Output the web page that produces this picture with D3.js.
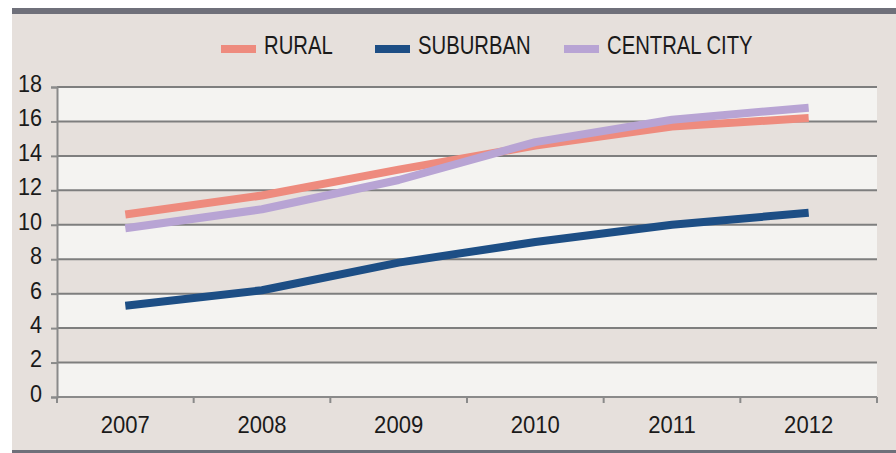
<!DOCTYPE html>
<html>
<head>
<meta charset="utf-8">
<script src="https://cdn.jsdelivr.net/npm/d3@7"></script>
<style>
	body { margin: 0; background: #fff; }
	svg text { font-family: "Liberation Sans", Arial, sans-serif; fill: #1a1a1a; }
</style>
</head>
<body>
<div id="chart"></div>
<script>
// Values
var years = ['2007', '2008', '2009', '2010', '2011', '2012'];
var rural = [10.6, 11.7, 13.2, 14.6, 15.7, 16.2];
var suburban = [5.3, 6.2, 7.8, 9.0, 10.0, 10.7];
var centralCity = [9.8, 10.9, 12.6, 14.8, 16.1, 16.8];
var seriesNames = ['RURAL', 'SUBURBAN', 'CENTRAL CITY'];
var seriesColors = ['#ee8b7e', '#1d4e85', '#b8a4d4'];
var yTicks = [0, 2, 4, 6, 8, 10, 12, 14, 16, 18];

var total_width = 896;
var total_height = 453;
var margin = {
	top: 87,
	right: 19,
	bottom: 56,
	left: 57
};
var width = total_width - margin.left - margin.right;
var height = total_height - margin.top - margin.bottom;

// condensed look: squeeze text horizontally around its anchor x
function squeeze(sel, s) {
	sel.each(function() {
		var t = d3.select(this);
		var x0 = +t.attr('x') || 0;
		t.attr('x', 0).attr('transform', 'translate(' + x0 + ',0) scale(' + s + ',1)');
	});
}

var svg = d3.select('#chart')
	.append('svg')
	.attr('width', total_width)
	.attr('height', total_height);

// Panel background and frame
svg.append('rect')
	.attr('x', 12).attr('y', 8)
	.attr('width', total_width - 12).attr('height', total_height - 8)
	.attr('fill', '#e6e0dc');
svg.append('rect')
	.attr('x', 12).attr('y', 8)
	.attr('width', total_width - 12).attr('height', 6)
	.attr('fill', '#6f707a');
svg.append('rect')
	.attr('x', 12).attr('y', 450)
	.attr('width', total_width - 12).attr('height', 3)
	.attr('fill', '#6f707a');

var main = svg.append('g')
	.attr('transform', 'translate(' + margin.left + ',' + margin.top + ')');

var x_scale = d3.scaleBand().domain(years).range([0, width]);
var y_scale = d3.scaleLinear().domain([0, 18]).range([height, 0]);

// Alternating light bands
var bands = yTicks.filter(function(d, i) { return i % 2 == 0 && d < 18; });
main.selectAll('.band')
	.data(bands)
	.enter()
	.append('rect')
	.attr('class', 'band')
	.attr('x', 0)
	.attr('y', function(d) { return y_scale(d + 2); })
	.attr('width', width)
	.attr('height', function(d) { return y_scale(d) - y_scale(d + 2); })
	.attr('fill', '#f4f3f1');

// Gridlines
main.selectAll('.grid')
	.data(yTicks)
	.enter()
	.append('line')
	.attr('class', 'grid')
	.attr('x1', 0)
	.attr('x2', width)
	.attr('y1', function(d) { return y_scale(d); })
	.attr('y2', function(d) { return y_scale(d); })
	.attr('stroke', '#7e7e7e')
	.attr('stroke-width', 2);

// Y axis
var yAxis = main.append('g')
	.call(d3.axisLeft(y_scale).tickValues(yTicks).tickSize(6).tickPadding(9));
yAxis.select('.domain').attr('stroke', '#8a8a8a').attr('stroke-width', 2);
yAxis.selectAll('.tick line').attr('stroke', '#8a8a8a').attr('stroke-width', 2);
yAxis.selectAll('text')
	.attr('font-size', '24px')
	.attr('dy', '0.18em')
	.style('fill', '#1a1a1a')
	.call(squeeze, 0.9);

// X axis, ticks on category boundaries
var xAxis = main.append('g')
	.attr('transform', 'translate(0,' + height + ')')
	.call(d3.axisBottom(x_scale).tickSize(0).tickPadding(19));
xAxis.select('.domain').remove();
xAxis.selectAll('text')
	.attr('font-size', '24px')
	.style('fill', '#1a1a1a')
	.call(squeeze, 0.92);
var boundaries = years.map(function(d) { return x_scale(d); }).concat([width]);
main.append('line')
	.attr('x1', 0).attr('x2', width)
	.attr('y1', height).attr('y2', height)
	.attr('stroke', '#8a8a8a').attr('stroke-width', 2);
main.selectAll('.xtick')
	.data(boundaries)
	.enter()
	.append('line')
	.attr('class', 'xtick')
	.attr('x1', function(d) { return d; })
	.attr('x2', function(d) { return d; })
	.attr('y1', height)
	.attr('y2', height + 6)
	.attr('stroke', '#8a8a8a')
	.attr('stroke-width', 2);

// Lines
var allSeries = [rural, suburban, centralCity];
var line = d3.line()
	.x(function(d, i) { return x_scale(years[i]) + x_scale.bandwidth() / 2; })
	.y(function(d) { return y_scale(d); });

main.selectAll('.series')
	.data(allSeries)
	.enter()
	.append('path')
	.attr('class', 'series')
	.attr('d', line)
	.attr('fill', 'none')
	.attr('stroke', function(d, i) { return seriesColors[i]; })
	.attr('stroke-width', 8)
	.attr('stroke-linejoin', 'round');

// Legend
var legendX = [221, 375, 564];
var legend = svg.selectAll('.legend')
	.data(seriesNames)
	.enter()
	.append('g')
	.attr('class', 'legend')
	.attr('transform', function(d, i) { return 'translate(' + legendX[i] + ',49)'; });
legend.append('rect')
	.attr('x', 0)
	.attr('y', -4)
	.attr('width', 35)
	.attr('height', 8)
	.attr('fill', function(d, i) { return seriesColors[i]; });
legend.append('text')
	.attr('x', 43)
	.attr('y', -4)
	.attr('dy', '0.36em')
	.attr('font-size', '26px')
	.text(function(d) { return d; })
	.call(squeeze, 0.78);
</script>
</body>
</html>
